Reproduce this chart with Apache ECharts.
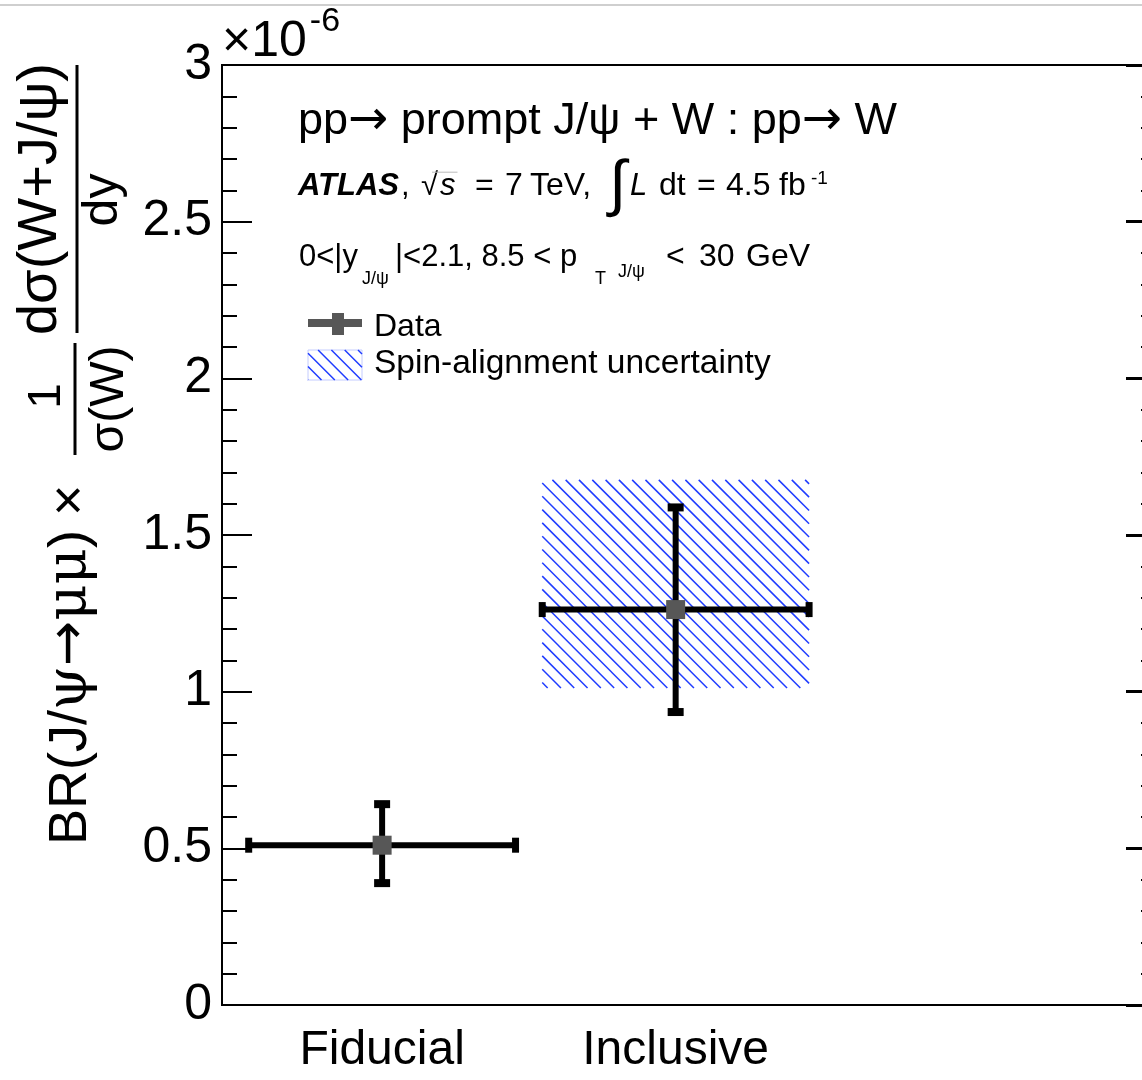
<!DOCTYPE html>
<html><head><meta charset="utf-8">
<script src="https://cdn.jsdelivr.net/npm/echarts@6/dist/echarts.min.js"></script>
<style>html,body{margin:0;padding:0;background:#fff}#c{width:1142px;height:1080px}</style>
</head><body><div id="c"></div>
<script>
// ---- data ----
const categories = ['Fiducial', 'Inclusive'];
const xCenters = [0.6, 1.7];
const xHalfWidths = [0.5, 0.5];
const yValues = [0.51, 1.262];
const yErrLow = [0.389, 0.935];
const yErrHigh = [0.641, 1.588];
const bandX0 = [1.2];
const bandX1 = [2.2];
const bandLow = [1.012];
const bandHigh = [1.676];
const yMin = 0, yMax = 3, yInterval = 0.5;
const xMin = 0, xMax = 3.5;

const FAM = '"Liberation Sans", Arial, Helvetica, sans-serif';
const SERIF = '"DejaVu Serif", serif';
const DSANS = '"DejaVu Sans", sans-serif';
const mctx = document.createElement('canvas').getContext('2d');
function fontStr(p) { return (p.italic ? 'italic ' : '') + (p.bold ? 'bold ' : '') + p.size + 'px ' + (p.fam || FAM); }
function txt(x, base, t, size, opt) {
  opt = opt || {};
  const f = fontStr(Object.assign({ size: size }, opt));
  const al = opt.align || 'left';
  return { type: 'text', x: x, y: base - 0.3465 * size, z: 10,
    style: { text: t, font: f, fill: opt.fill || '#000', align: al, textAlign: al, verticalAlign: 'middle', textVerticalAlign: 'middle' } };
}
function run(x, base, parts) {
  const els = []; let cx = x;
  for (const p of parts) {
    if (p.gap !== undefined) { cx += p.gap; continue; }
    if (p.at !== undefined) cx = p.at;
    mctx.font = fontStr(p);
    const w = mctx.measureText(p.t).width;
    els.push(txt(cx, base + (p.dy || 0), p.t, p.size, p));
    if (p.over) {
      const yy = base + (p.dy || 0) - p.size * 0.8;
      els.push({ type: 'line', z: 10, shape: { x1: cx - 8, y1: yy, x2: cx + w + 2, y2: yy }, style: { stroke: '#bbb', lineWidth: 1 } });
    }
    cx += w;
  }
  return els;
}
function hatchLines(L, T, R, B, step, color, w) {
  const out = [];
  for (let c = T - R + 4; c <= B - L; c += step) {
    const xa = Math.max(L, T - c), xb = Math.min(R, B - c);
    if (xb > xa) out.push({ type: 'line', shape: { x1: xa, y1: xa + c, x2: xb, y2: xb + c }, style: { stroke: color, lineWidth: w } });
  }
  return out;
}
const HATCH = '#1f3cff';

const errData = categories.map((c, i) => [xCenters[i], yValues[i], yErrLow[i], yErrHigh[i], xHalfWidths[i]]);
const bandData = bandX0.map((v, i) => [v, bandX1[i], bandLow[i], bandHigh[i]]);

function renderErr(params, api) {
  const x = api.value(0), y = api.value(1), lo = api.value(2), hi = api.value(3), xh = api.value(4);
  const c = api.coord([x, y]);
  const pl = api.coord([x - xh, y]), pr = api.coord([x + xh, y]);
  const pt = api.coord([x, hi]), pb = api.coord([x, lo]);
  const blk = { fill: '#000' };
  return { type: 'group', children: [
    { type: 'line', shape: { x1: pl[0], y1: c[1], x2: pr[0], y2: c[1] }, style: { stroke: '#000', lineWidth: 6 } },
    { type: 'line', shape: { x1: c[0], y1: pt[1], x2: c[0], y2: pb[1] }, style: { stroke: '#000', lineWidth: 6 } },
    { type: 'rect', shape: { x: pl[0] - 3.5, y: c[1] - 7.5, width: 7, height: 15 }, style: blk },
    { type: 'rect', shape: { x: pr[0] - 3.5, y: c[1] - 7.5, width: 7, height: 15 }, style: blk },
    { type: 'rect', shape: { x: c[0] - 8, y: pt[1] - 4, width: 16, height: 8 }, style: blk },
    { type: 'rect', shape: { x: c[0] - 8, y: pb[1] - 4, width: 16, height: 8 }, style: blk },
    { type: 'rect', shape: { x: c[0] - 9.5, y: c[1] - 9.5, width: 19, height: 19 }, style: { fill: '#575757' } }
  ] };
}
function renderBand(params, api) {
  const p0 = api.coord([api.value(0), api.value(3)]);
  const p1 = api.coord([api.value(1), api.value(2)]);
  return { type: 'group', children: hatchLines(p0[0], p0[1], p1[0], p1[1], 13.3, HATCH, 1.5) };
}

// ---- graphic (texts, legend, axis title) ----
const g = [];
g.push({ type: 'line', shape: { x1: 0, y1: 5, x2: 1142, y2: 5 }, style: { stroke: '#cfcfcf', lineWidth: 2 } });
g.push(...run(222, 60, [{ t: '×10', size: 50 }, { gap: 3 }, { t: '-6', size: 34, dy: -27 }]));
g.push(...run(298, 137, [
  { t: 'pp', size: 45 }, { t: '→', size: 48, fam: DSANS, dy: 1 }, { t: ' prompt J/ψ + W : pp', size: 45 },
  { t: '→', size: 48, fam: DSANS, dy: 1 }, { t: ' W', size: 45 }
]));
g.push(...run(298, 197, [
  { t: 'ATLAS', size: 31, bold: true, italic: true }, { at: 401, t: ',', size: 31 },
  { at: 421, t: '√', size: 31 }, { at: 440, t: 's', size: 31, italic: true, over: true },
  { at: 475, t: '=', size: 32 }, { at: 505, t: '7', size: 32 }, { at: 530, t: 'TeV,', size: 32 },
  { at: 609, t: '∫', size: 62, dy: 11 }, { at: 630, t: 'L', size: 31, italic: true }, { at: 659, t: 'dt', size: 32 },
  { at: 697, t: '=', size: 32 }, { at: 726, t: '4.5', size: 32 }, { at: 779, t: 'fb', size: 32 },
  { at: 811, t: '-1', size: 19, dy: -12 }
]));
g.push(...run(299, 268, [
  { t: '0<|y', size: 31 }, { at: 362, t: 'J/ψ', size: 18, dy: 17 },
  { at: 395, t: '|<2.1, 8.5 < p', size: 31 }, { at: 595, t: 'T', size: 18, dy: 17 },
  { at: 618, t: 'J/ψ', size: 18, dy: 10 }, { at: 666, t: '<', size: 32 }, { at: 699, t: '30', size: 32 }, { at: 746, t: 'GeV', size: 32 }
]));
// legend
g.push({ type: 'rect', shape: { x: 308, y: 319, width: 54, height: 8 }, style: { fill: '#575757' } });
g.push({ type: 'rect', shape: { x: 332, y: 313, width: 12, height: 22 }, style: { fill: '#575757' } });
g.push(...run(374, 338, [{ t: 'Data', size: 32 }]));
g.push({ type: 'rect', shape: { x: 308, y: 350, width: 54, height: 30 }, style: { fill: 'none', stroke: '#c4ccff', lineWidth: 1 } });
g.push({ type: 'group', children: hatchLines(308, 350, 362, 380, 13.3, HATCH, 1.5) });
g.push(...run(374, 375, [{ t: 'Spin-alignment uncertainty', size: 33.5 }]));

// rotated y-axis title: local (lx, ly) = (1080 - screenY, screenX)
const T = [];
T.push(...run(235, 90, [
  { t: 'BR(J/', size: 54 }, { t: 'ψ', size: 56, fam: SERIF }, { t: '→', size: 54, fam: DSANS },
  { t: 'μμ', size: 56, fam: SERIF }, { t: ')', size: 54 }, { gap: 14 }, { t: '×', size: 54 }
]));
T.push({ type: 'line', shape: { x1: 625, y1: 75, x2: 737, y2: 75 }, style: { stroke: '#000', lineWidth: 3 } });
T.push(txt(684, 63, '1', 46, { align: 'center' }));
T.push(txt(681, 126, 'σ(W)', 48, { align: 'center' }));
T.push({ type: 'line', shape: { x1: 747, y1: 77, x2: 1015, y2: 77 }, style: { stroke: '#000', lineWidth: 3 } });
T.push(txt(881, 60, 'dσ(W+J/ψ)', 56, { align: 'center' }));
T.push(txt(880, 121, 'dy', 50, { align: 'center' }));
g.push({ type: 'group', x: 0, y: 1080, rotation: Math.PI / 2, children: T });

const chart = echarts.init(document.getElementById('c'), null, { renderer: 'canvas' });
chart.setOption({
  backgroundColor: '#fff',
  animation: false,
  grid: { left: 222, top: 65, width: 934, height: 940, show: true, borderColor: '#000', borderWidth: 2, backgroundColor: 'transparent', containLabel: false, outerBoundsMode: 'none' },
  xAxis: [{
    type: 'value', min: xMin, max: xMax, position: 'bottom',
    axisLine: { show: true, onZero: false, lineStyle: { color: '#000', width: 2 } },
    axisTick: { show: false }, splitLine: { show: false },
    axisLabel: {
      customValues: xCenters, margin: 22, fontSize: 48, color: '#000', fontFamily: FAM,
      formatter: function (v) { let k = 0; xCenters.forEach((c, i) => { if (Math.abs(c - v) < 1e-6) k = i; }); return categories[k]; }
    }
  }],
  yAxis: [{
    type: 'value', min: yMin, max: yMax, interval: yInterval, position: 'left',
    axisLine: { show: true, lineStyle: { color: '#000', width: 2 } },
    axisTick: { show: true, inside: true, length: 30, lineStyle: { color: '#000', width: 2 } },
    minorTick: { show: true, splitNumber: 5, length: 15, lineStyle: { color: '#000', width: 2 } },
    splitLine: { show: false },
    axisLabel: { margin: 10, fontSize: 50, color: '#000', fontFamily: FAM }
  }, {
    type: 'value', min: yMin, max: yMax, interval: yInterval, position: 'right',
    axisLine: { show: true, lineStyle: { color: '#000', width: 2 } },
    axisTick: { show: true, inside: true, length: 30, lineStyle: { color: '#000', width: 3 } },
    minorTick: { show: true, splitNumber: 5, length: 15, lineStyle: { color: '#000', width: 2 } },
    splitLine: { show: false }, axisLabel: { show: false }
  }],
  series: [
    { type: 'custom', name: 'Spin-alignment uncertainty', renderItem: renderBand, data: bandData, z: 2, encode: { x: [0, 1], y: [2, 3] }, silent: true },
    { type: 'custom', name: 'Data', renderItem: renderErr, data: errData, z: 3, encode: { x: 0, y: [1, 2, 3] }, silent: true }
  ],
  graphic: g
});
</script>
</body></html>
